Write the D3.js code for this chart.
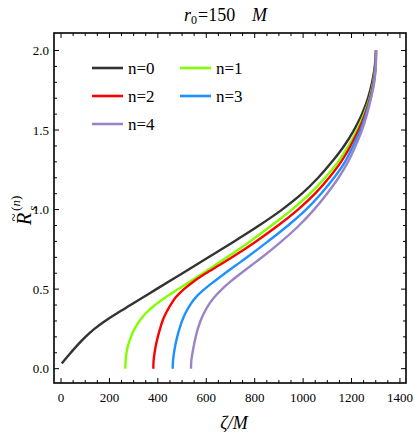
<!DOCTYPE html>
<html><head><meta charset="utf-8">
<script src="https://cdn.jsdelivr.net/npm/d3@7"></script>
<style>body{margin:0;background:#fff}svg{display:block}</style>
</head><body><svg id="c" width="415" height="438" font-family="Liberation Serif"></svg>
<script>
const seriesNames = ["n=0","n=1","n=2","n=3","n=4"];
const seriesColors = ["#333333","#7fff00","#ff0000","#1e90ff","#9b84c6"];
const R0 = [0.033,0.1,0.15,0.2,0.25,0.3,0.35,0.4,0.45,0.5,0.6,0.7,0.8,0.9,1.0,1.1,1.2,1.3,1.4,1.5,1.6,1.7,1.8,1.9,2.0];
const zeta0 = [3,40,69,101,138,182,233,287,341,394,502,609,715,818,913,995,1062,1119,1169,1210,1243,1268,1285,1296,1301];
const R1 = [0,0.05,0.1,0.15,0.2,0.25,0.3,0.35,0.4,0.45,0.5,0.55,0.6,0.7,0.8,0.9,1.0,1.1,1.2,1.3,1.4,1.5,1.6,1.7,1.8,1.9,2.0];
const zeta1 = [265.5,266.8,270.5,277.5,289.1,303.5,324.2,351,388.2,433.7,483.2,534.8,586.5,685.6,780.6,869.4,954.1,1028.4,1090.4,1144.1,1187.5,1222.6,1251.5,1274.2,1289.5,1298.2,1301.1];
const R2 = [0,0.05,0.1,0.15,0.2,0.25,0.3,0.35,0.4,0.45,0.5,0.55,0.6,0.65,0.7,0.8,0.9,1.0,1.1,1.2,1.3,1.4,1.5,1.6,1.7,1.8,1.9,2.0];
const zeta2 = [381.2,382.4,386.5,392.3,399.8,408.9,419.2,433.7,452.2,474.9,508,549.3,598.9,652.6,706.3,805.4,896.3,978.9,1049.2,1107,1156.6,1195.8,1228.8,1255.7,1276.4,1291.2,1299,1301.1];
const R3 = [0,0.05,0.1,0.15,0.2,0.25,0.3,0.35,0.4,0.45,0.5,0.55,0.6,0.65,0.7,0.8,0.9,1.0,1.1,1.2,1.3,1.4,1.5,1.6,1.7,1.8,1.9,2.0];
const zeta3 = [461.3,462.6,466.7,472.5,479.9,489,499.8,514.2,532.8,557.6,592.7,634,677.4,722.8,768.3,855,937.6,1012,1074,1127.7,1173.1,1206.2,1237.1,1259.9,1278.5,1292.4,1299.4,1301.1];
const R4 = [0,0.05,0.1,0.15,0.2,0.25,0.3,0.35,0.4,0.45,0.5,0.55,0.6,0.65,0.7,0.8,0.9,1.0,1.1,1.2,1.3,1.4,1.5,1.6,1.7,1.8,1.9,2.0];
const zeta4 = [536.9,538.2,543.1,549.3,556.3,565,576.1,590.6,609.2,634,665,702.2,743.5,786.8,830.2,910.7,983,1045,1098.7,1146.2,1185.4,1216.4,1243.3,1264,1280.5,1293.7,1300.3,1301.1];
const xTicks = [0,200,400,600,800,1000,1200,1400];
const yTicks = [0.0,0.5,1.0,1.5,2.0];
const yTickLabels = ["0.0","0.5","1.0","1.5","2.0"];

const zetas=[zeta0,zeta1,zeta2,zeta3,zeta4], Rs=[R0,R1,R2,R3,R4];
const L=54,Rr=406,T=33,B=383;
const FONT="font-family:'Liberation Serif'";
const svg=d3.select("#c");
const x=d3.scaleLinear().domain([-29,1425]).range([L,Rr]);
const y=d3.scaleLinear().domain([-0.09,2.11]).range([B,T]);

function txt(parent,s,px,py,size,italic,anchor){
  const e=parent.append("text").attr("style",FONT).attr("font-family","Liberation Serif")
    .attr("x",px).attr("y",py).attr("font-size",size).attr("text-anchor",anchor||"start").text(s);
  if(italic) e.attr("font-style","italic");
  return e;
}

const g=svg.append("g").attr("stroke","#000").attr("stroke-width",1);
const xMinor=d3.range(0,1401,50), yMinor=d3.range(0,2.001,0.1);
xMinor.forEach(v=>{const maj=v%200===0, len=maj?5:3;
  g.append("line").attr("x1",x(v)).attr("x2",x(v)).attr("y1",B).attr("y2",B-len);
  g.append("line").attr("x1",x(v)).attr("x2",x(v)).attr("y1",T).attr("y2",T+len);});
yMinor.forEach(v=>{const maj=Math.abs(v*2-Math.round(v*2))<1e-6, len=maj?5:3;
  g.append("line").attr("y1",y(v)).attr("y2",y(v)).attr("x1",L).attr("x2",L+len);
  g.append("line").attr("y1",y(v)).attr("y2",y(v)).attr("x1",Rr).attr("x2",Rr-len);});

const line=d3.line().x(d=>x(d[0])).y(d=>y(d[1])).curve(d3.curveCatmullRom.alpha(0.5));
zetas.forEach((zs,i)=>{
  const pts=zs.map((z,j)=>[z,Rs[i][j]]);
  svg.append("path").attr("d",line(pts)).attr("fill","none").attr("stroke",seriesColors[i]).attr("stroke-width",2.4);
});

svg.append("rect").attr("x",L).attr("y",T).attr("width",Rr-L).attr("height",B-T).attr("fill","none").attr("stroke","#000").attr("stroke-width",1.6);

xTicks.forEach(v=>txt(svg,String(v),x(v),402,13,false,"middle"));
yTicks.forEach((v,i)=>txt(svg,yTickLabels[i],49,y(v)+4.5,13,false,"end"));

// title: r0=150 M
txt(svg,"r",184,21,18,true);
txt(svg,"0",191,24,12,false);
txt(svg,"=150",198,21,18,false);
txt(svg,"M",252,21,18,true);

// x label
txt(svg,"ζ/M",234,429,18,true,"middle");

// y label
const yg=svg.append("g").attr("transform","translate(31,212) rotate(-90)");
txt(yg,"R",-13,0,20,true);
txt(yg,"~",-5.5,-12,15,false,"middle");
txt(yg,"s",1,6,13,true);
txt(yg,"(",1,-11,13,false);
txt(yg,"n",5.5,-11,13,true);
txt(yg,")",12,-11,13,false);

// legend
const leg=[[92,68],[180,68],[92,96],[180,96],[92,124]];
seriesNames.forEach((n,i)=>{
  const [lx,ly]=leg[i];
  svg.append("line").attr("x1",lx).attr("x2",lx+31).attr("y1",ly).attr("y2",ly).attr("stroke",seriesColors[i]).attr("stroke-width",2.6);
  txt(svg,n,lx+36,ly+5.5,17,false);
});
</script></body></html>
